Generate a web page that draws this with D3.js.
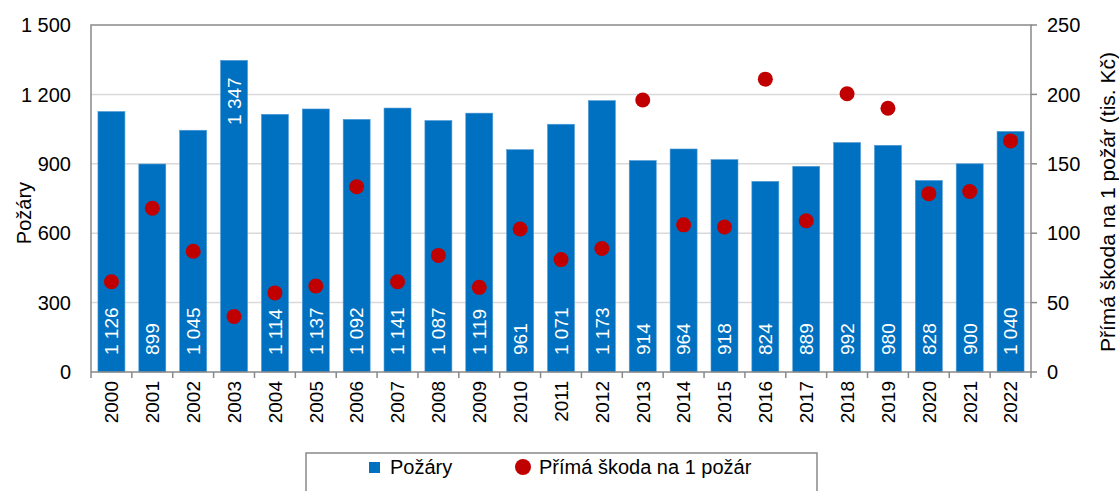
<!DOCTYPE html>
<html lang="cs">
	<head>
		<meta charset="UTF-8" />
		<title>Požáry</title>
		<script src="https://d3js.org/d3.v7.min.js"></script>
		<style>
			body { margin: 0; background: #fff; }
			svg text { font-family: Arial, "Liberation Sans", sans-serif; fill: #000; }
		</style>
	</head>
	<body>
		<svg id="chart"></svg>
		<script>
			var years = ["2000","2001","2002","2003","2004","2005","2006","2007","2008","2009","2010","2011","2012","2013","2014","2015","2016","2017","2018","2019","2020","2021","2022"];
			var fires = [1126, 899, 1045, 1347, 1114, 1137, 1092, 1141, 1087, 1119, 961, 1071, 1173, 914, 964, 918, 824, 889, 992, 980, 828, 900, 1040];
			var damage = [65, 118, 87, 40, 57, 62, 133.5, 65, 84, 61, 103, 81, 89, 196, 106, 104.5, 211, 109, 200.5, 190, 128.5, 130, 166.5];
			var leftTicks = [0, 300, 600, 900, 1200, 1500];
			var rightTicks = [0, 50, 100, 150, 200, 250];
			// label moved to the top of the bar where the dot would cover it
			var labelAtTop = ["2003"];

			var width = 1119, height = 491;
			var plotLeft = 91, plotRight = 1031, plotTop = 25, plotBottom = 372;
			var barColor = "#0070c0", dotColor = "#c00000", axisColor = "#898989";

			var fmt = function (v) {
				return d3.format(",")(v).replace(/,/g, " ");
			};

			var svg = d3.select("#chart").attr("width", width).attr("height", height);

			var x = d3.scaleBand().domain(years).range([plotLeft, plotRight]).paddingInner(0.34).paddingOuter(0.17);
			var y = d3.scaleLinear().domain([0, 1500]).range([plotBottom, plotTop]);
			var y2 = d3.scaleLinear().domain([0, 250]).range([plotBottom, plotTop]);

			// gridlines
			svg.append("g")
				.selectAll("line")
				.data(leftTicks.slice(1, -1))
				.enter()
				.append("line")
				.attr("x1", plotLeft).attr("x2", plotRight)
				.attr("y1", function (d) { return y(d); })
				.attr("y2", function (d) { return y(d); })
				.attr("stroke", "#d9d9d9").attr("stroke-width", 1.5);

			// bars
			svg.append("g")
				.selectAll("rect")
				.data(fires)
				.enter()
				.append("rect")
				.attr("x", function (d, i) { return x(years[i]); })
				.attr("y", function (d) { return y(d); })
				.attr("width", x.bandwidth())
				.attr("height", function (d) { return plotBottom - y(d); })
				.attr("fill", barColor)
				.attr("stroke", "#4f9ad6").attr("stroke-width", 0.6);

			// bar value labels
			svg.append("g")
				.selectAll("text")
				.data(fires)
				.enter()
				.append("text")
				.attr("transform", function (d, i) {
					var top = labelAtTop.indexOf(years[i]) >= 0;
					var ty = top ? y(d) + 17 : plotBottom - 17;
					return "translate(" + (x(years[i]) + x.bandwidth() / 2) + "," + ty + ") rotate(-90)";
				})
				.attr("text-anchor", function (d, i) { return labelAtTop.indexOf(years[i]) >= 0 ? "end" : "start"; })
				.attr("dy", "0.36em")
				.attr("font-size", 19)
				.style("fill", "#fff")
				.text(function (d) { return fmt(d); });

			// plot frame
			var frame = svg.append("g").attr("stroke", axisColor).attr("stroke-width", 1.5).attr("fill", "none");
			frame.append("path").attr("d", "M" + plotLeft + "," + plotBottom + "V" + plotTop + "H" + plotRight + "V" + plotBottom + "H" + plotLeft);

			// x ticks between categories
			var bounds = years.map(function (d) { return x(d) - x.step() * x.paddingInner() / 2; });
			bounds.push(plotRight);
			frame.selectAll("line.xt")
				.data(bounds)
				.enter()
				.append("line")
				.attr("x1", function (d) { return d; }).attr("x2", function (d) { return d; })
				.attr("y1", plotBottom).attr("y2", plotBottom + 6);

			// right ticks
			frame.selectAll("line.rt")
				.data(rightTicks)
				.enter()
				.append("line")
				.attr("x1", plotRight).attr("x2", plotRight + 6)
				.attr("y1", function (d) { return y2(d); })
				.attr("y2", function (d) { return y2(d); });

			// dots
			svg.append("g")
				.selectAll("circle")
				.data(damage)
				.enter()
				.append("circle")
				.attr("cx", function (d, i) { return x(years[i]) + x.bandwidth() / 2; })
				.attr("cy", function (d) { return y2(d); })
				.attr("r", 7.5)
				.attr("fill", dotColor);

			// left axis labels
			svg.append("g")
				.selectAll("text")
				.data(leftTicks)
				.enter()
				.append("text")
				.attr("x", plotLeft - 20)
				.attr("y", function (d) { return y(d); })
				.attr("dy", "0.36em")
				.attr("text-anchor", "end")
				.attr("font-size", 20)
				.text(function (d) { return fmt(d); });

			// right axis labels
			svg.append("g")
				.selectAll("text")
				.data(rightTicks)
				.enter()
				.append("text")
				.attr("x", plotRight + 16)
				.attr("y", function (d) { return y2(d); })
				.attr("dy", "0.36em")
				.attr("font-size", 20)
				.text(function (d) { return d; });

			// year labels
			svg.append("g")
				.selectAll("text")
				.data(years)
				.enter()
				.append("text")
				.attr("transform", function (d) {
					return "translate(" + (x(d) + x.bandwidth() / 2) + "," + (plotBottom + 9) + ") rotate(-90)";
				})
				.attr("dy", "0.36em")
				.attr("text-anchor", "end")
				.attr("font-size", 19)
				.text(function (d) { return d; });

			// axis titles
			svg.append("text")
				.attr("transform", "translate(24,213) rotate(-90)")
				.attr("text-anchor", "middle")
				.attr("dy", "0.36em")
				.attr("font-size", 20)
				.text("Požáry");

			svg.append("text")
				.attr("transform", "translate(1107,202) rotate(-90)")
				.attr("text-anchor", "middle")
				.attr("dy", "0.36em")
				.attr("font-size", 21)
				.text("Přímá škoda na 1 požár (tis. Kč)");

			// legend
			var legend = svg.append("g");
			legend.append("rect")
				.attr("x", 306).attr("y", 453).attr("width", 511).attr("height", 60)
				.attr("fill", "#fff").attr("stroke", axisColor).attr("stroke-width", 1.5);
			legend.append("rect")
				.attr("x", 369).attr("y", 462).attr("width", 11).attr("height", 11)
				.attr("fill", barColor);
			legend.append("text")
				.attr("x", 390).attr("y", 467).attr("dy", "0.36em")
				.attr("font-size", 20)
				.text("Požáry");
			legend.append("circle")
				.attr("cx", 523).attr("cy", 467).attr("r", 8)
				.attr("fill", dotColor);
			legend.append("text")
				.attr("x", 539).attr("y", 467).attr("dy", "0.36em")
				.attr("font-size", 20)
				.text("Přímá škoda na 1 požár");
		</script>
	</body>
</html>
